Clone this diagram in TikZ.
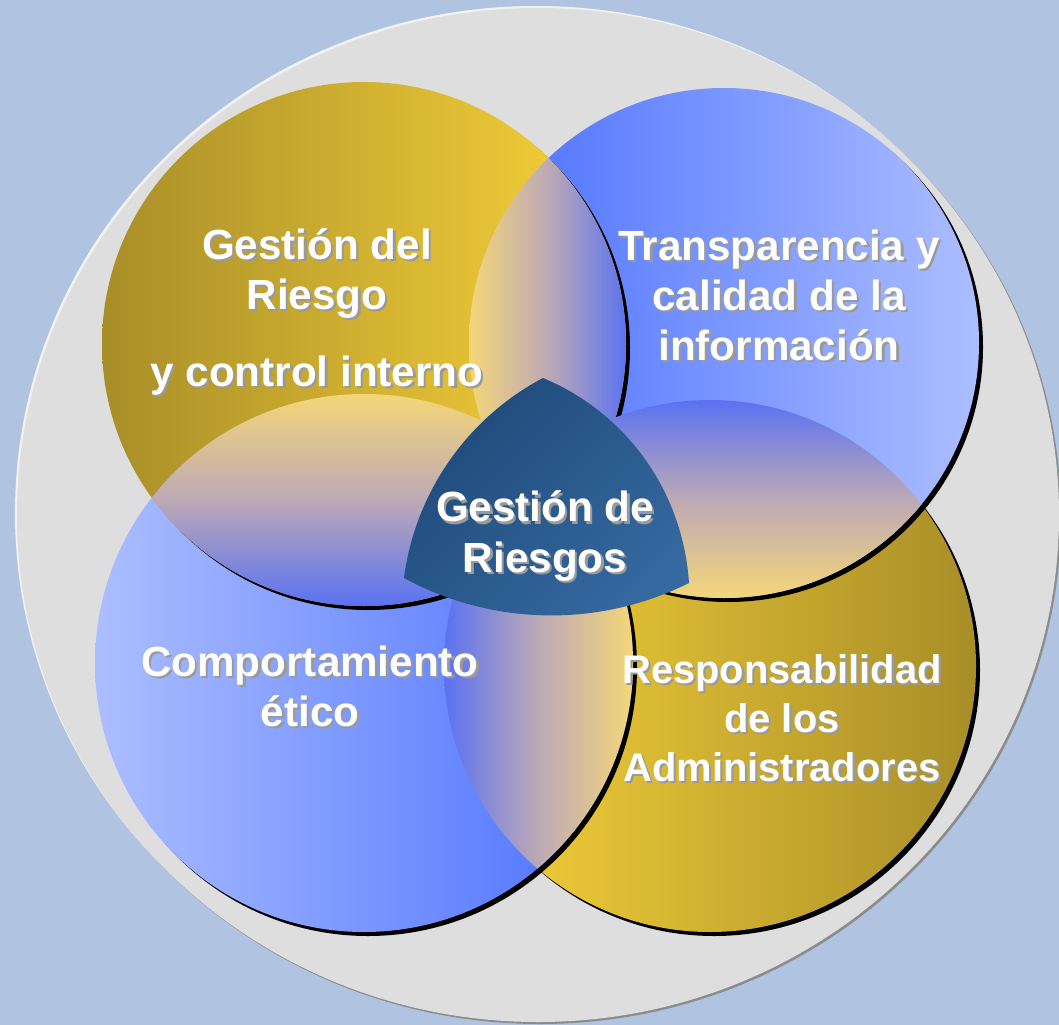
\documentclass[tikz,border=0pt]{standalone}
\usepackage{fontspec}
\setmainfont{Liberation Sans}
\usetikzlibrary{calc}

\definecolor{pagebg}{HTML}{B0C4E2}
\definecolor{discgrey}{HTML}{DEDEDE}
\definecolor{discedge}{HTML}{8C8C8C}
\definecolor{disclight}{HTML}{F2F2F2}
\definecolor{golddark}{HTML}{A88E28}
\definecolor{goldlight}{HTML}{FAD43A}
\definecolor{bluedeep}{HTML}{486EFF}
\definecolor{bluepale}{HTML}{ACBEFF}
\definecolor{lensgold}{HTML}{F4D678}
\definecolor{lensmid}{HTML}{BDA9B6}
\definecolor{lensblue}{HTML}{5A72F2}
\definecolor{coredark}{HTML}{1F4A7A}
\definecolor{corelight}{HTML}{3569A0}
\definecolor{txtshadow}{HTML}{9A9A9A}

\tikzstyle{drop} = [fill=black]
\tikzstyle{goldfwd} = [left color=golddark, right color=goldlight]
\tikzstyle{goldrev} = [left color=goldlight, right color=golddark]
\tikzstyle{bluefwd} = [left color=bluedeep, right color=bluepale]
\tikzstyle{bluerev} = [left color=bluepale, right color=bluedeep]
\tikzstyle{lbl} = [text=white, font=\fontsize{30}{35.6}\selectfont\bfseries, align=center, inner sep=0pt]
\tikzstyle{lblsmall} = [lbl, font=\fontsize{28.4}{35}\selectfont\bfseries]

\newcommand{\shadowlbl}[4][lbl]{%
  \node (#2-sh) [#1, text=txtshadow, xshift=1.6pt, yshift=-1.6pt] at (#3) {#4};
  \node (#2) [#1] at (#3) {#4};}

\begin{document}
\begin{tikzpicture}[x=0.025cm, y=-0.025cm]

\useasboundingbox (0,0) rectangle (1059,1025);
\clip (0,0) rectangle (1059,1025);
\fill[pagebg] (0,0) rectangle (1059,1025);

%% DISC
\coordinate (disc) at (538,515);
\fill[disclight] ($(disc)+(-2,-2)$) ellipse (521 and 507);
\fill[discedge] ($(disc)+(2,2)$) ellipse (521 and 507);
\fill[discgrey] (disc) ellipse (521 and 507);

%% CIRCLES
\coordinate (tl) at (364,344);
\coordinate (tr) at (724,343);
\coordinate (bl) at (364,663);
\coordinate (br) at (710,666);

\fill[drop] ($(br)+(4,4)$) circle (266);
\shade[goldrev] (br) circle (266);
\fill[drop] ($(tr)+(4,4)$) circle (255);
\shade[bluefwd] (tr) circle (255);
\fill[drop] ($(bl)+(4,4)$) circle (269);
\shade[bluerev] (bl) circle (269);
\fill[drop] ($(tl)+(4,4)$) circle (262);
\shade[goldfwd] (tl) circle (262);

%% OVERLAPS
\begin{scope}
\clip (tl) circle (262);
\clip (tr) circle (255);
\shade[left color=lensgold, right color=lensblue, middle color=lensmid] (469,155) rectangle (628,535);
\end{scope}
\begin{scope}
\clip (tl) circle (262);
\clip (bl) circle (269);
\shade[top color=lensgold, bottom color=lensblue, middle color=lensmid] (148,394) rectangle (580,606);
\end{scope}
\begin{scope}
\clip (tr) circle (255);
\clip (br) circle (266);
\shade[top color=lensblue, bottom color=lensgold, middle color=lensmid] (510,400) rectangle (925,598);
\end{scope}
\begin{scope}
\clip (bl) circle (269);
\clip (br) circle (266);
\shade[left color=lensblue, right color=lensgold, middle color=lensmid] (444,455) rectangle (633,870);
\end{scope}

%% CORE
\shade[top color=coredark, bottom color=corelight, shading angle=45]
  (543,378) .. controls (627,413) and (683,492) .. (689,583)
  .. controls (599,628) and (492,626) .. (404,578)
  .. controls (415,493) and (467,418) .. (543,378) -- cycle;

%% LABELS
\shadowlbl{risk}{317,312}{Gestión del\\Riesgo\\[19pt]y control interno}
\shadowlbl{info}{779,295}{Transparencia y\\calidad de la\\información}
\shadowlbl{ethic}{310,686}{Comportamiento\\ético}
\shadowlbl[lblsmall]{admin}{782,718}{Responsabilidad\\de los\\Administradores}
\shadowlbl{core}{545,536}{Gestión de\\Riesgos}

\end{tikzpicture}
\end{document}
